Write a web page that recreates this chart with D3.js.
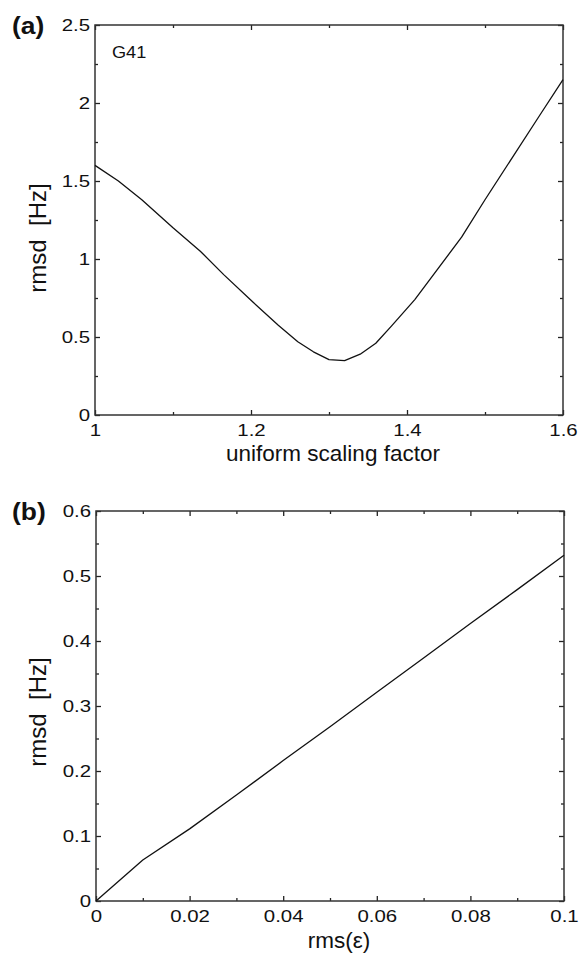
<!DOCTYPE html>
<html>
<head>
<meta charset="utf-8">
<script src="https://cdn.jsdelivr.net/npm/d3@7"></script>
<style>
  body { margin: 0; background: #fff; }
  svg { display: block; }
  text { font-family: "Liberation Sans", Arial, Helvetica, sans-serif; fill: #111; }
</style>
</head>
<body>
<div id="chart"></div>
<script>
//data
//(a) rmsd vs uniform scaling factor
var scaleFactor = [1.00, 1.03, 1.06, 1.10, 1.135, 1.165, 1.20, 1.235, 1.26, 1.28, 1.30, 1.32, 1.34, 1.36, 1.38, 1.41, 1.44, 1.47, 1.50, 1.535, 1.57, 1.60];
var rmsdA       = [1.60, 1.50, 1.38, 1.20, 1.05, 0.90, 0.735, 0.575, 0.47, 0.405, 0.355, 0.348, 0.39, 0.46, 0.57, 0.74, 0.94, 1.14, 1.38, 1.65, 1.92, 2.15];

//(b) rmsd vs rms(eps)
var rmsEps = [0, 0.01, 0.02, 0.03, 0.04, 0.05, 0.06, 0.07, 0.08, 0.09, 0.10];
var rmsdB  = [0, 0.063, 0.111, 0.163, 0.216, 0.268, 0.321, 0.374, 0.427, 0.479, 0.532];

//ticks
var xTicksA = [1, 1.2, 1.4, 1.6];
var xMinorA = [1.1, 1.3, 1.5];
var yTicksA = [0, 0.5, 1, 1.5, 2, 2.5];
var yMinorA = [0.25, 0.75, 1.25, 1.75, 2.25];
var xTicksB = [0, 0.02, 0.04, 0.06, 0.08, 0.1];
var xMinorB = [0.01, 0.03, 0.05, 0.07, 0.09];
var yTicksB = [0, 0.1, 0.2, 0.3, 0.4, 0.5, 0.6];
var yMinorB = [0.05, 0.15, 0.25, 0.35, 0.45, 0.55];

var W = 581, H = 958;

var svg = d3.select("#chart").append("svg")
    .attr("width", W)
    .attr("height", H);

//text in the figure is a bit wider than the font, stretch it
function stretch(sel, k) {
    sel.each(function() {
        var w = this.getComputedTextLength();
        d3.select(this).attr("textLength", w * k).attr("lengthAdjust", "spacingAndGlyphs");
    });
}

function panel(opt) {
    var g = svg.append("g");
    var x = d3.scaleLinear().domain(opt.xDomain).range([opt.left, opt.right]);
    var y = d3.scaleLinear().domain(opt.yDomain).range([opt.bottom, opt.top]);

    //major ticks with labels
    g.append("g")
        .attr("transform", "translate(0," + opt.bottom + ")")
        .call(d3.axisBottom(x).tickValues(opt.xTicks).tickSize(-5).tickPadding(9).tickFormat(d3.format("~g")));
    g.append("g")
        .attr("transform", "translate(" + opt.left + ",0)")
        .call(d3.axisLeft(y).tickValues(opt.yTicks).tickSize(-5).tickPadding(5).tickFormat(d3.format("~g")));

    //mirrored ticks, top and right
    g.append("g")
        .attr("transform", "translate(0," + opt.top + ")")
        .call(d3.axisTop(x).tickValues(opt.xTicks).tickSize(-5).tickFormat(""));
    g.append("g")
        .attr("transform", "translate(" + opt.right + ",0)")
        .call(d3.axisRight(y).tickValues(opt.yTicks).tickSize(-5).tickFormat(""));

    //minor ticks
    g.append("g").attr("transform", "translate(0," + opt.bottom + ")")
        .call(d3.axisBottom(x).tickValues(opt.xMinor).tickSize(-3).tickFormat(""));
    g.append("g").attr("transform", "translate(0," + opt.top + ")")
        .call(d3.axisTop(x).tickValues(opt.xMinor).tickSize(-3).tickFormat(""));
    g.append("g").attr("transform", "translate(" + opt.left + ",0)")
        .call(d3.axisLeft(y).tickValues(opt.yMinor).tickSize(-3).tickFormat(""));
    g.append("g").attr("transform", "translate(" + opt.right + ",0)")
        .call(d3.axisRight(y).tickValues(opt.yMinor).tickSize(-3).tickFormat(""));

    g.selectAll(".domain").remove();
    g.selectAll(".tick line").attr("stroke", "#222").attr("stroke-width", 1.3);

    var labels = g.selectAll(".tick text")
        .attr("font-size", 17)
        .attr("font-family", "Liberation Sans, Arial, sans-serif")
        .attr("fill", "#111");
    stretch(labels, 1.2);

    //frame
    g.append("rect")
        .attr("x", opt.left).attr("y", opt.top)
        .attr("width", opt.right - opt.left)
        .attr("height", opt.bottom - opt.top)
        .attr("fill", "none")
        .attr("stroke", "#333")
        .attr("stroke-width", 1.5);

    //curve
    var line = d3.line()
        .x(function(d) { return x(d[0]); })
        .y(function(d) { return y(d[1]); });
    g.append("path")
        .datum(d3.zip(opt.xs, opt.ys))
        .attr("d", line)
        .attr("fill", "none")
        .attr("stroke", "#111")
        .attr("stroke-width", 1.3)
        .attr("stroke-linejoin", "round");

    //axis titles
    g.append("text")
        .attr("x", opt.xLabelX)
        .attr("y", opt.xLabelY)
        .attr("text-anchor", "middle")
        .attr("font-size", 22.5)
        .text(opt.xLabel);
    g.append("text")
        .attr("transform", "translate(46," + opt.yLabelY + ") rotate(-90)")
        .attr("text-anchor", "middle")
        .attr("font-size", 24)
        .style("white-space", "pre")
        .text("rmsd  [Hz]");

    //panel letter
    var tag = g.append("text")
        .attr("x", 12)
        .attr("y", opt.top + 9)
        .attr("font-size", 24)
        .attr("font-weight", "bold")
        .text(opt.tag);
    stretch(tag, 1.1);

    return g;
}

var ga = panel({
    left: 95, right: 563, top: 25, bottom: 415,
    xDomain: [1, 1.6], yDomain: [0, 2.5],
    xTicks: xTicksA, xMinor: xMinorA, yTicks: yTicksA, yMinor: yMinorA,
    xs: scaleFactor, ys: rmsdA,
    xLabel: "uniform scaling factor", xLabelX: 333, xLabelY: 461,
    yLabelY: 238, tag: "(a)"
});

var g41 = ga.append("text")
    .attr("x", 112)
    .attr("y", 58)
    .attr("font-size", 16.5)
    .text("G41");
stretch(g41, 1.1);

panel({
    left: 96, right: 564, top: 511, bottom: 901,
    xDomain: [0, 0.1], yDomain: [0, 0.6],
    xTicks: xTicksB, xMinor: xMinorB, yTicks: yTicksB, yMinor: yMinorB,
    xs: rmsEps, ys: rmsdB,
    xLabel: "rms(\u03b5)", xLabelX: 339, xLabelY: 948,
    yLabelY: 712, tag: "(b)"
});
</script>
</body>
</html>
